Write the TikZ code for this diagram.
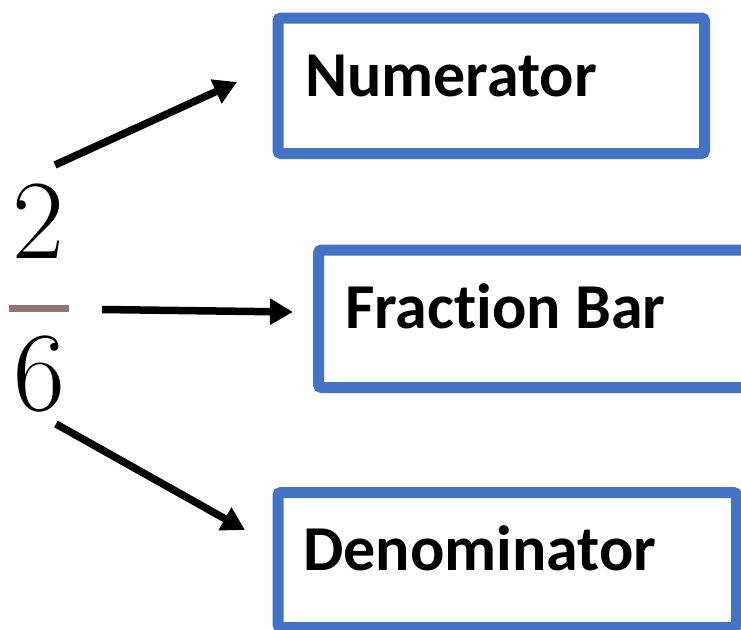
\documentclass[tikz,border=0pt]{standalone}
\usepackage{fontspec}
\newfontfamily\labelfont[Ligatures=NoCommon]{Carlito}
\usetikzlibrary{arrows.meta}
\definecolor{boxblue}{HTML}{4472C4}
\definecolor{barcol}{RGB}{141,117,112}
\tikzset{
  box/.style={draw=boxblue, line width=11pt, rounded corners=3pt},
  lbl/.style={anchor=base west, inner sep=0pt, font=\labelfont\bfseries\fontsize{64}{72}\selectfont},
  digit/.style={anchor=base, inner sep=0pt, font=\fontsize{113}{120}\selectfont},
  arr/.style={line width=7.5pt, -{Triangle[length=23pt,width=25pt]}},
}
\begin{document}
\begin{tikzpicture}[x=1pt,y=-1pt]
\useasboundingbox (0,0) rectangle (741,629);
\clip (0,0) rectangle (741,629);
% boxes
\draw[box] (278,18) rectangle (704.5,153.5);
\draw[box] (318.5,250) rectangle (760,387.5);
\draw[box] (278,492.5) rectangle (736.5,627.5);
\node[lbl] (num) at (305,96) {Numerator};
\node[lbl] (bar) at (345,328) {Fraction Bar};
\node[lbl] (den) at (303,570) {Denominator};
% fraction
\node[digit] (two) at (38.5,258) {2};
\node[digit] (six) at (39.5,410) {6};
\draw[barcol, line width=7pt] (9,308.5) -- (69,308.5);
% arrows
\coordinate (a1s) at (55,165);
\coordinate (a1e) at (237,82);
\coordinate (a2s) at (102,309.5);
\coordinate (a2e) at (293,312);
\coordinate (a3s) at (56,424);
\coordinate (a3e) at (245,530);
\draw[arr] (a1s) -- (a1e);
\draw[arr] (a2s) -- (a2e);
\draw[arr] (a3s) -- (a3e);
\end{tikzpicture}
\end{document}
